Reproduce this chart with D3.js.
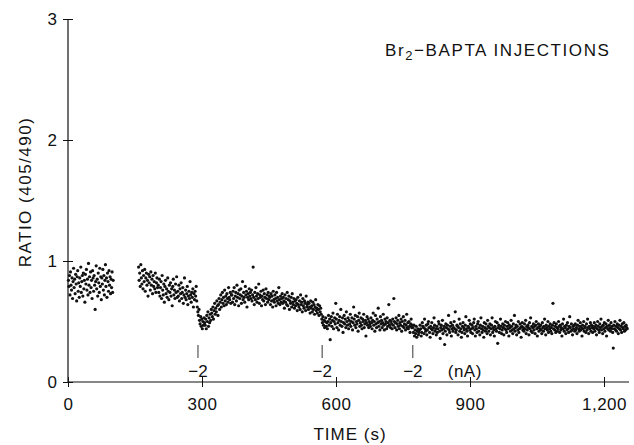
<!DOCTYPE html>
<html><head><meta charset="utf-8">
<script src="https://cdn.jsdelivr.net/npm/d3@7"></script>
<style>body{margin:0;background:#fff} svg{display:block} text{font-family:"Liberation Sans",Arial,sans-serif;fill:#111}</style>
</head><body><svg id="c" width="634" height="445"></svg>
<script>
// ---- axis ticks ----
const xTicks = [0, 300, 600, 900, 1200];
const yTicks = [0, 1, 2, 3];
// ---- injection markers (time in s) ----
const injTimes = [291, 569, 772];
const injLabels = ["\u22122", "\u22122", "\u22122"];
const unitLabel = "(nA)";
// ---- ratio values x100, sampled at fixed interval within each segment ----
const seg1 = [84,79,88,72,91,80,76,86,69,83,94,78,85,73,89,81,67,87,92,75,82,70,
86,79,95,74,83,88,71,90,77,84,66,89,81,93,76,85,72,98,80,87,74,91,
78,84,69,92,86,75,88,80,60,83,96,77,85,71,90,82,74,94,79,87,68,86,
81,93,76,88,72,84,97,79,86,70,90,83,75,92,80,87,73,85,78,91,74,84];
const phaseA = [95,84,90,79,97,86,81,92,77,88,83,93,75,86,90,80,84,71,89,82,87,76,91,80,85,73,88,79,83,77,90,74,82,86,78];
const phaseB = [80,74,85,71,78,83,69,88,76,72,81,66,79,84,73,77,70,86,75,68,80,74,82,71,77,63,79,85,72,76,69,81,74,87,70,
75,71,80,67,77,73,82,69,74,78,65,72,86,70,76,68,73,79,64,71,75,69,83,72,66,74,70,77,62,73,68,75,71,79,67];
const phaseC = [62,58,55,60,51,48,54,46,52,44,50,47,53,49];
const phaseD = [47,52,44,55,50,58,46,53,49,56,51,60,57,54,62,52,59,65,56,61,58,67,63,55,64,69,60,66,72,62,68,74,65,70,63,76,67,71,64,73,69,66,78,70,68,74,65,72];
const phaseE = [72,66,75,69,78,64,71,74,67,80,70,73,63,76,69,72,77,65,71,83,68,74,70,66,79,72,75,62,70,73,68,77,71,74,
69,76,67,72,95,70,64,74,68,78,71,66,73,69,81,65,72,70,75,63,71,68,76,67,73,70,64,77,69,72,66,74,68,71];
const phaseF = [70,64,73,67,71,62,75,68,66,72,69,63,74,67,70,65,78,68,64,71,66,69,73,
65,70,67,61,72,66,69,64,74,63,68,71,60,67,65,70,62,73,66,64,69,61,67,
63,68,65,59,70,64,62,67,60,72,64,66,58,69,63,61,67,65,59,71,62,64,66,
60,65,62,57,67,61,63,58,66,60,64,56,62,68,59,61,57,64,60,55,63,58,61];
const phaseG = [56,52,49,54,47,51,45,50,53,46,49,44];
const phaseH = [50,55,47,52,35,49,54,46,51,57,44,50,53,48,65,52,45,56,49,43,51,54,47,60,50,46,53,41,49,55,48,52,45,58,50,47,53,44,
51,48,56,46,50,53,43,49,62,52,47,55,45,50,48,54,42,51,57,46,49,53,47,44,52,50,56,45,48,51,38,49,54,47,52,45,50,48,
46,53,49,44,51,57,47,50,42,55,48,45,52,49,61,46,50,43,54,48,51,45,49,56,47,43,52,48,50,44,53,46,49,64,47,51,45,50,
48,44,52,47,69,50,45,49,53,43,48,51,46,55,44,49,47,52,42,50,46,54,45,48,51,43,47,56,45,49,44,50,46,41,48,52,45,47];
const phaseI = [45,41,47,38,43,40,46,37,42,44,39,41];
const phaseJ = [43,47,44,38,41,49,46,45,40,52,44,42,47,39,43,48,50,45,41,37,46,44,49,43,40,45,53,47,42,44,39,
46,41,44,50,48,42,36,45,47,43,51,40,44,46,31,42,48,45,39,47,44,55,43,41,46,49,38,44,47,42,45,
50,44,58,41,43,47,46,39,45,52,42,48,44,37,41,46,49,45,43,40,47,54,44,42,38,46,45,51,43,48,41,
44,47,40,45,49,52,43,38,46,44,41,48,50,42,45,39,47,53,44,41,46,43,37,49,45,42,48,44,40,51,46,
42,45,48,39,44,47,53,41,45,43,38,46,50,44,42,49,32,45,47,41,44,52,46,40,43,48,45,39,47,44,50,
43,41,46,49,44,38,47,45,42,51,46,43,40,48,44,55,42,45,47,39,46,43,50,41,44,48,45,37,46,49,43,
45,42,48,44,51,40,46,43,47,45,39,49,44,53,42,46,41,45,48,43,46,40,47,50,44,38,45,48,42,46,44,
47,43,40,49,45,42,46,52,44,39,47,45,43,50,41,46,44,48,42,45,40,47,65,44,49,43,46,41,48,45,42,
44,50,46,41,47,43,45,38,48,44,52,42,46,45,40,47,43,49,44,41,46,54,45,42,48,43,39,46,44,47,42,
48,43,45,40,47,51,44,42,46,49,43,45,38,47,44,50,42,46,45,41,48,43,52,45,40,46,44,49,42,47,45,
41,46,44,49,42,45,47,39,44,50,46,43,41,48,45,52,43,46,40,47,44,49,42,45,48,38,46,44,51,43,47,
45,42,49,44,46,41,28,47,44,50,43,46,42,48,45,40,47,44,51,43,46,41,48,45,44,49,42,46,43,47,45,44];
// segment start times (s) and sampling interval (s)
const segments = [
  {t0: 1, dt: 1.15, v: seg1},
  {t0: 158, dt: 1.25, v: phaseA},
  {t0: 202, dt: 1.25, v: phaseB},
  {t0: 289.5, dt: 1.25, v: phaseC},
  {t0: 307, dt: 1.25, v: phaseD},
  {t0: 367, dt: 1.25, v: phaseE},
  {t0: 452, dt: 1.25, v: phaseF},
  {t0: 567, dt: 1.25, v: phaseG},
  {t0: 582, dt: 1.25, v: phaseH},
  {t0: 772, dt: 1.25, v: phaseI},
  {t0: 787, dt: 1.25, v: phaseJ}
];
const points = [];
segments.forEach(s => s.v.forEach((v, i) => points.push({t: s.t0 + i * s.dt, r: v / 100})));

const svg = d3.select("#c");
const x = d3.scaleLinear().domain([0, 1200]).range([68, 604]);
const y = d3.scaleLinear().domain([0, 3]).range([382, 19]);
const FS = 17;

// x axis
const gx = svg.append("g").attr("transform", `translate(0,${y(0)})`)
  .call(d3.axisBottom(x).tickValues(xTicks).tickFormat(d3.format(",")).tickSizeOuter(0));
gx.select(".domain").remove();
gx.selectAll(".tick line").attr("y1", -5).attr("y2", 5).attr("stroke", "#111");
gx.selectAll(".tick text").attr("y", 28).attr("dy", 0).attr("font-size", FS).attr("font-family", null).attr("letter-spacing", 0.5);
gx.append("line").attr("x1", x(0)).attr("x2", x(1256)).attr("stroke", "#111").attr("stroke-width", 1.2);

// y axis
const gy = svg.append("g").attr("transform", `translate(${x(0)},0)`)
  .call(d3.axisLeft(y).tickValues(yTicks).tickFormat(d3.format("d")).tickSizeOuter(0));
gy.select(".domain").remove();
gy.selectAll(".tick line").attr("x1", -5).attr("x2", 5).attr("stroke", "#111");
gy.selectAll(".tick text").attr("x", -11).attr("font-size", FS).attr("font-family", null);
gy.append("line").attr("y1", y(0)).attr("y2", y(3)).attr("stroke", "#111").attr("stroke-width", 1.2);

// points
svg.append("g").selectAll("circle").data(points).join("circle")
  .attr("cx", d => x(d.t)).attr("cy", d => y(d.r)).attr("r", 1.6).attr("fill", "#111");

// injection markers
const gi = svg.append("g");
injTimes.forEach((t, i) => {
  gi.append("line").attr("x1", x(t)).attr("x2", x(t)).attr("y1", 345).attr("y2", 358)
    .attr("stroke", "#333").attr("stroke-width", 1);
  gi.append("text").attr("x", x(t)).attr("y", 377).attr("text-anchor", "middle")
    .attr("font-size", FS).text(injLabels[i]);
});
gi.append("text").attr("x", x(772) + 52).attr("y", 377).attr("text-anchor", "middle")
  .attr("font-size", FS).attr("letter-spacing", 0.5).text(unitLabel);

// axis titles
svg.append("text").attr("x", 350).attr("y", 440).attr("text-anchor", "middle")
  .attr("font-size", FS).attr("letter-spacing", 1).text("TIME (s)");
svg.append("text").attr("transform", "translate(31,192) rotate(-90)").attr("text-anchor", "middle")
  .attr("font-size", FS).attr("letter-spacing", 1.5).text("RATIO (405/490)");

// title
const tt = svg.append("text").attr("x", 385).attr("y", 56).attr("font-size", FS).attr("letter-spacing", 1.6);
tt.append("tspan").text("Br");
tt.append("tspan").attr("font-size", 13).attr("dy", 4).text("2");
tt.append("tspan").attr("dy", -4).text("\u2212BAPTA INJECTIONS");
</script></body></html>
